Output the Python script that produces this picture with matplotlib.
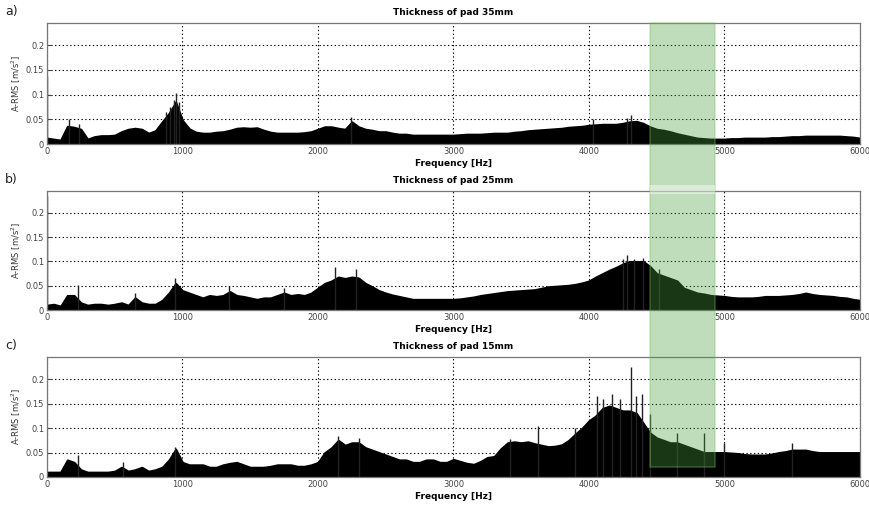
import numpy as np
import matplotlib.pyplot as plt
from matplotlib.patches import Rectangle

# spectra, envelope every 50 Hz (0..6000 Hz)
freq_step = 50
env_35 = [
    0.012, 0.010, 0.008, 0.036, 0.034, 0.030, 0.010, 0.015, 0.017, 0.017,
    0.018, 0.025, 0.030, 0.032, 0.030, 0.022, 0.027, 0.045, 0.062, 0.085,
    0.048, 0.031, 0.024, 0.022, 0.022, 0.024, 0.025, 0.028, 0.032, 0.033,
    0.032, 0.033, 0.028, 0.024, 0.022, 0.022, 0.022, 0.022, 0.023, 0.025,
    0.030, 0.035, 0.035, 0.032, 0.030, 0.045, 0.035, 0.030, 0.028, 0.025,
    0.025, 0.022, 0.020, 0.020, 0.018, 0.018, 0.018, 0.018, 0.018, 0.018,
    0.018, 0.019, 0.020, 0.020, 0.020, 0.021, 0.022, 0.022, 0.022, 0.024,
    0.025, 0.027, 0.028, 0.029, 0.030, 0.031, 0.032, 0.034, 0.035, 0.036,
    0.038, 0.039, 0.040, 0.040, 0.040, 0.042, 0.045, 0.046, 0.042, 0.035,
    0.030, 0.028, 0.025, 0.021, 0.018, 0.015, 0.012, 0.011, 0.010, 0.010,
    0.010, 0.011, 0.011, 0.012, 0.012, 0.012, 0.012, 0.013, 0.013, 0.014,
    0.015, 0.015, 0.016, 0.016, 0.016, 0.016, 0.016, 0.016, 0.015, 0.014,
    0.012]
env_25 = [
    0.010, 0.012, 0.008, 0.030, 0.030, 0.015, 0.010, 0.012, 0.012, 0.010,
    0.012, 0.015, 0.010, 0.025, 0.015, 0.012, 0.012, 0.020, 0.035, 0.055,
    0.040, 0.035, 0.030, 0.025, 0.030, 0.028, 0.030, 0.038, 0.030, 0.028,
    0.025, 0.022, 0.025, 0.025, 0.030, 0.035, 0.030, 0.032, 0.030, 0.035,
    0.045, 0.055, 0.060, 0.068, 0.065, 0.068, 0.066, 0.055, 0.048, 0.040,
    0.035, 0.031, 0.028, 0.025, 0.022, 0.022, 0.022, 0.022, 0.022, 0.022,
    0.022, 0.023, 0.025, 0.027, 0.030, 0.032, 0.034, 0.036, 0.038, 0.039,
    0.040, 0.041, 0.042, 0.045, 0.048, 0.049, 0.050, 0.051, 0.053, 0.056,
    0.060, 0.068, 0.075, 0.082, 0.088, 0.095, 0.100, 0.100, 0.100, 0.090,
    0.075, 0.070, 0.065, 0.060, 0.045, 0.040, 0.035, 0.033, 0.030, 0.029,
    0.028, 0.026, 0.025, 0.025, 0.025, 0.026, 0.028, 0.028, 0.028, 0.029,
    0.030, 0.032, 0.035, 0.032, 0.030, 0.029, 0.028, 0.026, 0.025, 0.022,
    0.020]
env_15 = [
    0.010, 0.010, 0.010, 0.035, 0.030, 0.015, 0.010, 0.010, 0.010, 0.010,
    0.012, 0.020, 0.012, 0.015, 0.020, 0.012, 0.015, 0.020, 0.035, 0.057,
    0.030, 0.025, 0.025, 0.025, 0.020, 0.020, 0.025, 0.028, 0.030, 0.025,
    0.020, 0.020, 0.020, 0.022, 0.025, 0.025, 0.025, 0.022, 0.022, 0.025,
    0.030, 0.050, 0.060, 0.075, 0.065, 0.070, 0.070, 0.060, 0.055, 0.050,
    0.045, 0.040, 0.035, 0.035, 0.030, 0.030, 0.035, 0.035, 0.030, 0.030,
    0.036, 0.032, 0.028, 0.026, 0.032, 0.040, 0.042, 0.058, 0.070, 0.072,
    0.070, 0.072, 0.068, 0.065, 0.062, 0.063, 0.066, 0.075, 0.088, 0.100,
    0.115, 0.125, 0.140, 0.145, 0.140, 0.135, 0.135, 0.130, 0.110, 0.090,
    0.080, 0.075, 0.070, 0.070, 0.065, 0.060, 0.055, 0.050, 0.050, 0.050,
    0.050, 0.049, 0.048, 0.046, 0.045, 0.045, 0.045, 0.047, 0.050, 0.052,
    0.055, 0.055, 0.055, 0.052, 0.050, 0.050, 0.050, 0.050, 0.050, 0.050,
    0.050]

# single tall spikes (Hz, m/s^2)
peaks_35 = [(0, 0.138), (160, 0.050), (235, 0.041), (880, 0.065), (910, 0.075),
            (935, 0.090), (955, 0.103), (975, 0.085), (2245, 0.054),
            (4030, 0.050), (4280, 0.052), (4310, 0.058)]
peaks_25 = [(0, 0.235), (230, 0.051), (650, 0.035), (945, 0.065), (1340, 0.050),
            (1750, 0.045), (2125, 0.089), (2280, 0.085), (4250, 0.105),
            (4284, 0.113), (4330, 0.105), (4400, 0.108), (4520, 0.085)]
peaks_15 = [(230, 0.045), (560, 0.030), (945, 0.062), (2150, 0.083), (2300, 0.080),
            (3420, 0.077), (3620, 0.104), (3900, 0.100), (4060, 0.165),
            (4100, 0.160), (4170, 0.170), (4230, 0.160), (4311, 0.225),
            (4350, 0.166), (4390, 0.170), (4450, 0.128), (4650, 0.090),
            (4850, 0.090), (5000, 0.070), (5500, 0.070)]

titles = ['Thickness of pad 35mm', 'Thickness of pad 25mm', 'Thickness of pad 15mm']
letters = ['a)', 'b)', 'c)']
band = (4450, 4930)   # highlighted frequency range
band_bottom = 0.02    # lower edge of highlight in panel c

W, H = 870, 512
fig = plt.figure(figsize=(W / 100, H / 100), dpi=100)

# axes boxes in pixels: (top, bottom)
boxes = [(23, 144), (191, 310), (357, 477)]
left, right = 47, 860
axes = []
for (top, bot), env, peaks, title, letter in zip(
        boxes, [env_35, env_25, env_15], [peaks_35, peaks_25, peaks_15], titles, letters):
    ax = fig.add_axes([left / W, 1 - bot / H, (right - left) / W, (bot - top) / H])
    f = np.arange(len(env)) * freq_step
    ax.fill_between(f, 0, env, color='black', lw=1.4, zorder=2)
    pf, pv = zip(*peaks)
    ax.vlines(pf, 0, pv, color='#222222', lw=1.0, zorder=2)
    ax.set_xlim(0, 6000)
    ax.set_ylim(0, 0.245)
    ax.set_xticks(range(0, 6001, 1000))
    ax.set_yticks([0, 0.05, 0.1, 0.15, 0.2])
    ax.set_yticklabels(['0', '0.05', '0.1', '0.15', '0.2'])
    ax.grid(True, color='black', ls=(0, (1.2, 2.2)), lw=0.8, zorder=1)
    ax.set_axisbelow(True)
    ax.tick_params(labelsize=6, colors='#444444', direction='in', length=3, pad=2)
    for s in ax.spines.values():
        s.set_color('#777777')
        s.set_linewidth(0.9)
    ax.set_xlabel('Frequency [Hz]', fontsize=6.5, fontweight='bold', labelpad=2)
    ax.set_ylabel('A-RMS [m/s$^2$]', fontsize=6, color='#333333', labelpad=2)
    ax.set_title(title, fontsize=6.5, fontweight='bold', pad=6)
    fig.text(5 / W, 1 - (top - 11) / H, letter, fontsize=9, va='center', color='#222222')
    axes.append(ax)

# green highlight across all three panels
to_fig = fig.transFigure.inverted()
x0, y_top = to_fig.transform(axes[0].transData.transform((band[0], 0.245)))
x1, y_bot = to_fig.transform(axes[2].transData.transform((band[1], band_bottom)))
fig.add_artist(Rectangle((x0, y_bot), x1 - x0, y_top - y_bot, transform=fig.transFigure,
                         facecolor='#48a03a', alpha=0.35, edgecolor='#7cbf55', lw=1.2, zorder=10))
fig.add_artist(Rectangle((x0, 1 - 194 / H), x1 - x0, 9 / H, transform=fig.transFigure,
                         facecolor='white', alpha=0.45, lw=0, zorder=11))

fig.savefig('out.png', dpi=100)
